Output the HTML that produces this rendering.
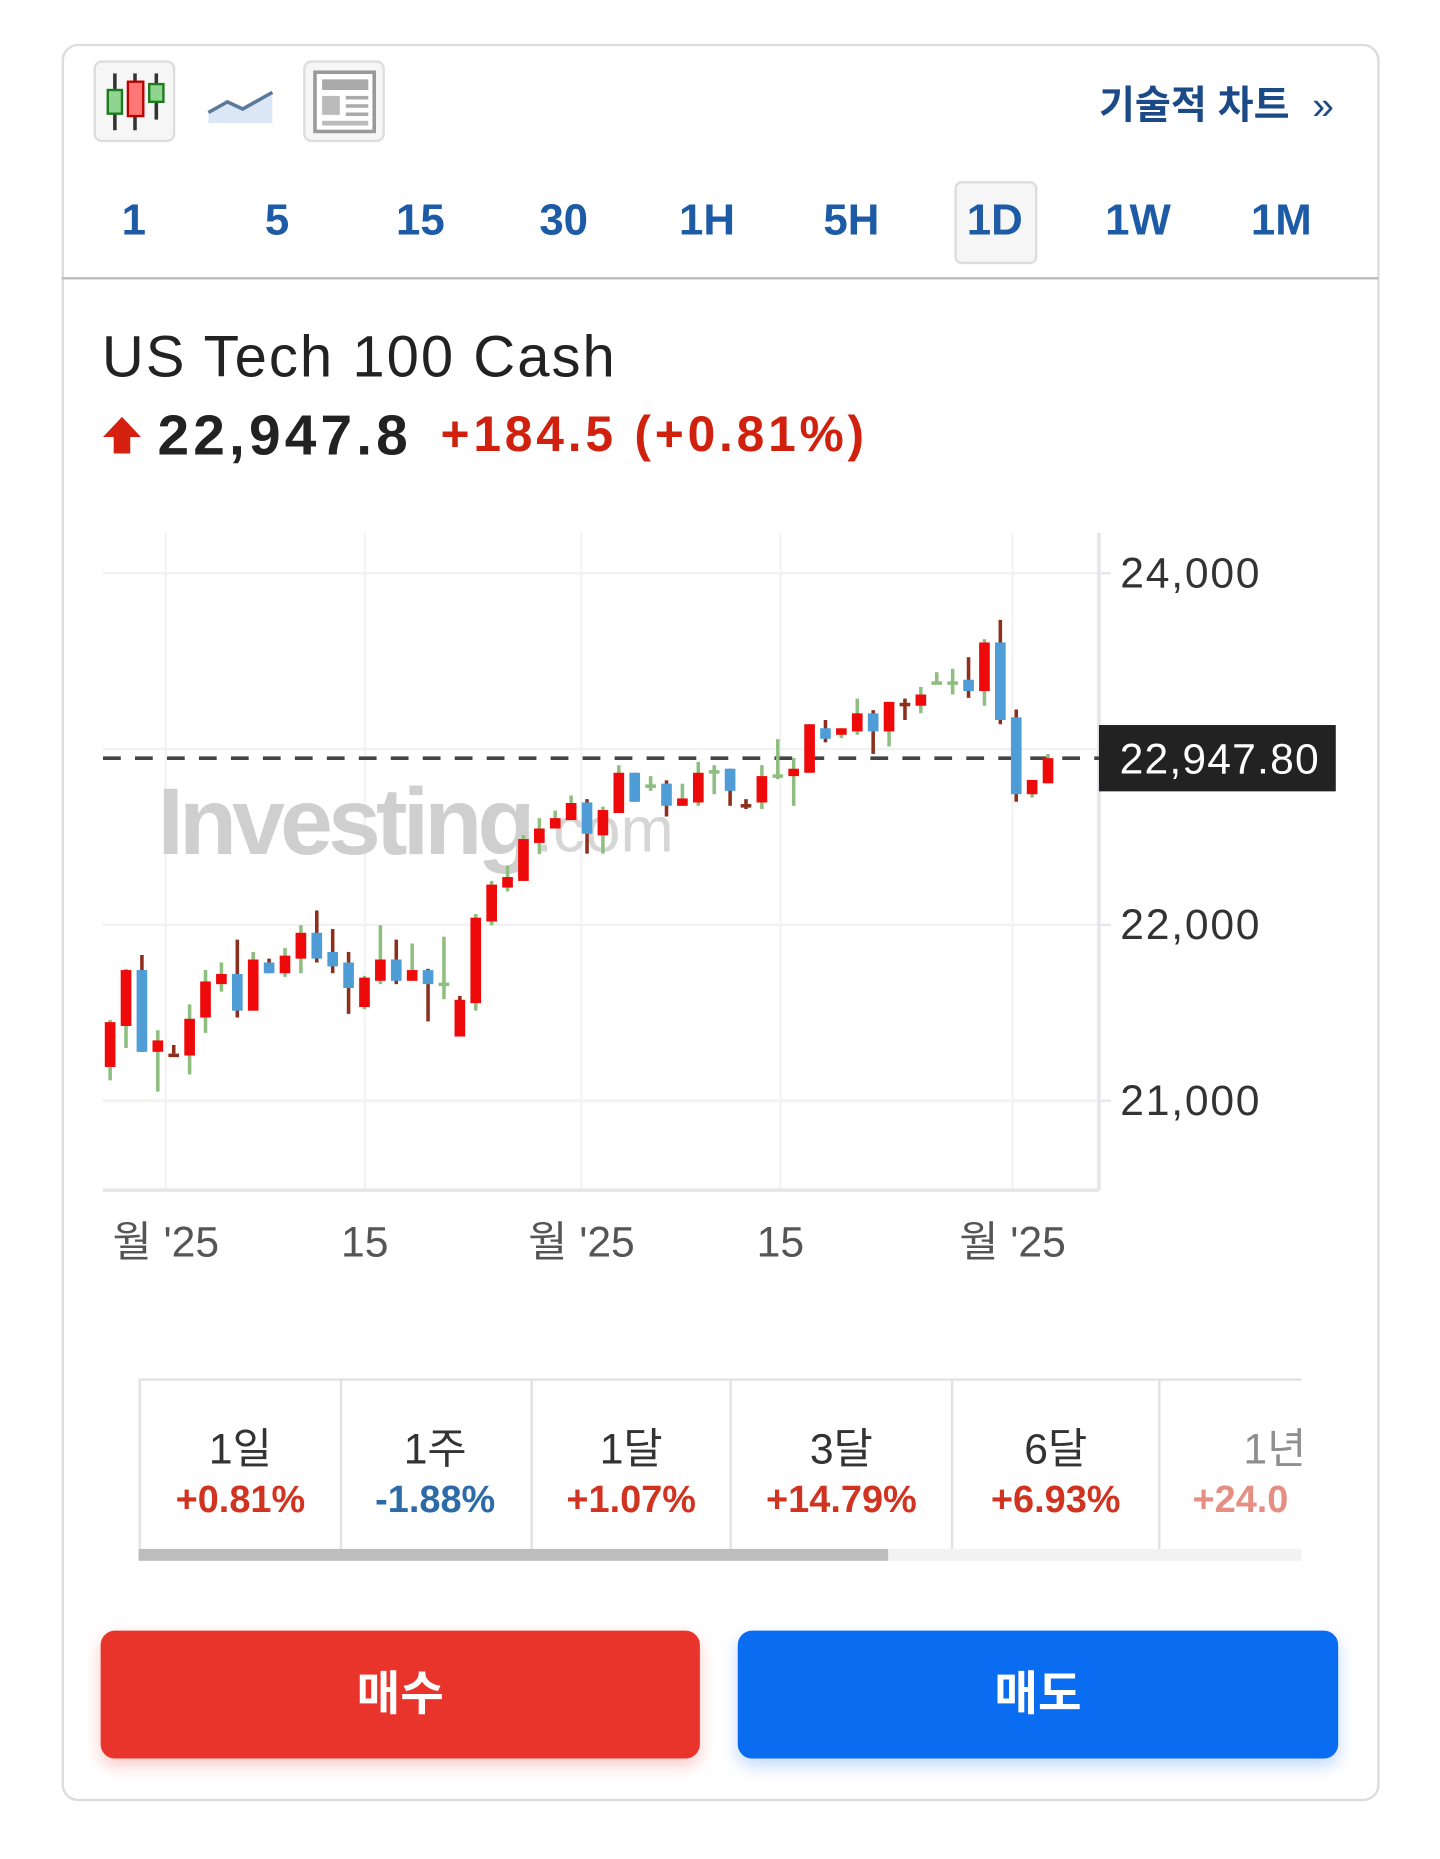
<!DOCTYPE html>
<html><head><meta charset="utf-8">
<style>
html,body{margin:0;padding:0;background:#fff;width:1440px;height:1859px;overflow:hidden}
#wrap{position:absolute;left:0;top:0;width:1216px;height:1570px;transform:scale(1.184211);transform-origin:0 0;font-family:"Liberation Sans","Noto Sans CJK KR",sans-serif}
.abs{position:absolute}
.tf{position:absolute;top:160px;font-size:37px;font-weight:bold;color:#1d5ba6;transform:translateX(-50%);line-height:52px}
.cell{position:absolute;top:1165px;height:143px;border-right:2px solid #e2e2e2;text-align:center}
.cell .l{position:absolute;top:30px;width:100%;font-size:36px;color:#333}
.cell .v{position:absolute;top:83px;width:100%;font-size:32px;font-weight:bold}
.btn{position:absolute;top:1377px;height:108px;border-radius:12px;color:#fff;font-size:40px;font-weight:bold;text-align:center;line-height:108px}
</style></head><body>
<div id="wrap">
<div class="abs" style="left:52px;top:37px;width:1109px;height:1480px;border:2px solid #dcdcdc;border-radius:14px"></div>

<svg class="abs" style="left:0;top:0" width="400" height="140">
<g>
<rect x="80" y="52" width="67" height="67" rx="6" fill="#f6f6f6" stroke="#ddd" stroke-width="2"/>
<line x1="97" y1="62" x2="97" y2="110" stroke="#333" stroke-width="3"/><rect x="91" y="76" width="12" height="20" fill="#8fd48f" stroke="#1d7a1d" stroke-width="2"/>
<line x1="114" y1="62" x2="114" y2="110" stroke="#333" stroke-width="3"/><rect x="108" y="69" width="13" height="29" fill="#f77" stroke="#b00" stroke-width="2"/>
<line x1="132" y1="62" x2="132" y2="101" stroke="#333" stroke-width="3"/><rect x="126" y="71" width="12" height="15" fill="#8fd48f" stroke="#1d7a1d" stroke-width="2"/>
</g>
<g>
<path d="M176 95 L192 86 L205 92 L230 78 L230 104 L176 104Z" fill="#dbe6f6"/>
<path d="M176 95 L192 86 L205 92 L230 78" fill="none" stroke="#5a7a9a" stroke-width="3"/>
</g>
<g>
<rect x="257" y="52" width="67" height="67" rx="6" fill="#f6f6f6" stroke="#ddd" stroke-width="2"/>
<rect x="266" y="61" width="50" height="50" fill="#fff" stroke="#999" stroke-width="3"/>
<rect x="272" y="67" width="39" height="9" fill="#aaa"/><rect x="272" y="81" width="15" height="16" fill="#bbb"/>
<rect x="292" y="81" width="19" height="3" fill="#aaa"/><rect x="292" y="88" width="19" height="3" fill="#aaa"/><rect x="292" y="95" width="19" height="3" fill="#aaa"/>
<rect x="272" y="102" width="39" height="4" fill="#bbb"/>
</g>
</svg>
<div class="abs" style="left:928px;top:62px;font-size:33px;font-weight:bold;color:#1c4a86">기술적 차트 <span style="font-weight:normal;margin-left:10px">»</span></div>

<div class="abs" style="left:806px;top:153px;width:66px;height:66px;border:2px solid #ddd;border-radius:6px;background:#f6f6f6"></div>
<div class="tf" style="left:113px">1</div>
<div class="tf" style="left:234px">5</div>
<div class="tf" style="left:355px">15</div>
<div class="tf" style="left:476px">30</div>
<div class="tf" style="left:597px">1H</div>
<div class="tf" style="left:719px">5H</div>
<div class="tf" style="left:840px">1D</div>
<div class="tf" style="left:961px">1W</div>
<div class="tf" style="left:1082px">1M</div>
<div class="abs" style="left:52px;top:234px;width:1112px;height:2px;background:#bdbdbd"></div>

<div class="abs" style="left:86px;top:274px;font-size:49px;color:#222;letter-spacing:1.7px">US Tech 100 Cash</div>
<svg class="abs" style="left:86px;top:350px" width="34" height="34"><path d="M17 2 L33 19 L24 19 L24 33 L10 33 L10 19 L1 19Z" fill="#d6200f"/></svg>
<div class="abs" style="left:133px;top:341px;font-size:48px;font-weight:bold;color:#222;letter-spacing:3.5px">22,947.8</div>
<div class="abs" style="left:372px;top:343px;font-size:42px;font-weight:bold;color:#d0210f;letter-spacing:3.2px">+184.5 (+0.81%)</div>

<svg id="chart" class="abs" style="left:0;top:0" width="1216" height="1100"></svg>

<div class="abs" style="left:117px;top:1164px;width:982px;height:154px;overflow:hidden;border-top:2px solid #e2e2e2">
</div>
<div class="cell" style="left:117px;width:168px;border-left:2px solid #e2e2e2"><div class="l">1일</div><div class="v" style="color:#d0331f">+0.81%</div></div>
<div class="cell" style="left:287px;width:161px"><div class="l">1주</div><div class="v" style="color:#2c6aa8">-1.88%</div></div>
<div class="cell" style="left:450px;width:166px"><div class="l">1달</div><div class="v" style="color:#d0331f">+1.07%</div></div>
<div class="cell" style="left:618px;width:185px"><div class="l">3달</div><div class="v" style="color:#d0331f">+14.79%</div></div>
<div class="cell" style="left:805px;width:173px"><div class="l">6달</div><div class="v" style="color:#d0331f">+6.93%</div></div>
<div class="cell" style="left:980px;width:119px;border-right:none;overflow:hidden;opacity:.55;text-align:left"><div class="l" style="left:70px;width:100px;text-align:left">1년</div><div class="v" style="left:27px;width:120px;text-align:left;color:#d0331f">+24.0</div></div>
<div class="abs" style="left:117px;top:1308px;width:982px;height:10px;background:#f2f2f2"></div>
<div class="abs" style="left:117px;top:1308px;width:633px;height:10px;background:#bdbdbd"></div>

<div class="btn" style="left:85px;width:506px;background:#e8342a;box-shadow:0 6px 14px rgba(232,52,42,.25)">매수</div>
<div class="btn" style="left:623px;width:507px;background:#0a6cf0;box-shadow:0 6px 14px rgba(10,108,240,.25)">매도</div>
</div>

<script>
const opens  = [21192,21425,21743,21278,21268,21257,21473,21663,21721,21512,21786,21725,21808,21955,21846,21786,21533,21682,21803,21682,21743,21672,21365,21555,22019,22212,22250,22466,22548,22596,22696,22509,22636,22865,22799,22803,22677,22696,22880,22888,22687,22696,22856,22846,22865,23118,23081,23100,23203,23100,23263,23246,23385,23385,23394,23330,23606,23180,22743,22805];
const closes = [21447,21743,21278,21343,21268,21466,21678,21721,21512,21803,21725,21825,21955,21808,21764,21641,21700,21803,21682,21743,21663,21672,21574,22041,22229,22272,22488,22548,22607,22693,22518,22653,22865,22700,22799,22677,22719,22865,22880,22762,22687,22846,22856,22888,23141,23058,23118,23203,23100,23268,23263,23310,23385,23385,23330,23606,23165,22743,22824,22948];
const highs  = [21460,21750,21829,21401,21317,21548,21743,21786,21916,21846,21808,21868,21998,22082,21976,21846,21710,21998,21916,21894,21750,21933,21596,22062,22250,22337,22510,22607,22650,22736,22715,22672,22908,22865,22846,22822,22803,22927,22908,22888,22715,22908,23056,22949,23141,23165,23118,23287,23221,23268,23287,23353,23437,23456,23522,23625,23734,23225,22824,22972];
const lows   = [21116,21300,21278,21052,21268,21149,21386,21620,21473,21512,21725,21704,21725,21786,21725,21494,21520,21663,21663,21682,21451,21577,21365,21512,21998,22190,22250,22402,22548,22596,22405,22405,22636,22700,22762,22616,22677,22677,22743,22677,22659,22659,22828,22677,22865,23038,23062,23081,22972,23015,23165,23203,23375,23310,23291,23246,23141,22700,22724,22805];
const yTicks = [21000,22000,23000,24000];
const yTickLabels = ["21,000","22,000","","24,000"];
const xTickIdx = [4,16,29,41,56];
const xTickLabels = ["월 '25","15","월 '25","15","월 '25"];
const lastPrice = 22947.8;

const svg = document.getElementById('chart');
const NS = 'http://www.w3.org/2000/svg';
const L = 87, R = 928, T = 450, B = 1005;
const y = v => 484 + (24000 - v) * 0.1485;
const x = i => 93 + i * (885 - 93) / (opens.length - 1);
function mk(tag, attrs){ const e = document.createElementNS(NS, tag); for (const k in attrs) e.setAttribute(k, attrs[k]); svg.appendChild(e); return e; }

yTicks.forEach((t,k) => {
  const g = mk('line',{x1:L,x2:R,y1:y(t),y2:y(t),stroke:'#f1f1f1','stroke-width':2});
  
  
  mk('line',{x1:R,x2:R+10,y1:y(t),y2:y(t),stroke:'#e4e6ea','stroke-width':2});
  if (yTickLabels[k]) {
    const tx = mk('text',{x:946,y:y(t)+12,'font-size':36,fill:'#333','font-family':'Liberation Sans, sans-serif','letter-spacing':'1.5'});
    tx.textContent = yTickLabels[k];
    
    
  }
});
xTickIdx.forEach((idx,k) => {
  const xx = [140,308,491,659,855][k];
  const g = mk('line',{x1:xx,x2:xx,y1:T,y2:B,stroke:'#f3f3f3','stroke-width':2});
  
  
  const tx = mk('text',{x:xx,y:1061,'font-size':36,fill:'#555','text-anchor':'middle','font-family':'Liberation Sans, Noto Sans CJK KR, sans-serif'});
  tx.textContent = xTickLabels[k];
  
  
});
const ax1 = mk('line',{x1:R,x2:R,y1:T,y2:B,stroke:'#e4e6ea','stroke-width':3});


const ax2 = mk('line',{x1:L,x2:R,y1:B,y2:B,stroke:'#e4e6ea','stroke-width':3});



const wm = mk('text',{x:133,y:721,'font-size':80,'font-weight':'bold',fill:'#cfcfcf','font-family':'Liberation Sans, sans-serif','letter-spacing':'-4'});
wm.textContent = 'Investing';


const wm2 = mk('text',{x:452,y:719,'font-size':54,fill:'#d6d6d6','font-family':'Liberation Sans, sans-serif'});
wm2.textContent = '.com';



const dl = mk('line',{x1:L,x2:R,y1:y(lastPrice),y2:y(lastPrice),stroke:'#444','stroke-width':3,'stroke-dasharray':'15 12'});



const bw = 9;
opens.forEach((o,i) => {
  const c = closes[i], h = highs[i], l = lows[i];
  const prev = i > 0 ? closes[i-1] : o;
  const wick = mk('line',{x1:x(i),x2:x(i),y1:y(h),y2:y(l),stroke: c >= prev ? '#8fbf80' : '#8e2e1c','stroke-width':3});
  
  
  const top = y(Math.max(o,c)), bot = y(Math.min(o,c));
  const body = mk('rect',{x:x(i)-bw/2,y:top,width:bw,height:Math.max(3,bot-top),
    fill: c > o ? '#ee0a0a' : (c < o ? '#4e9dd6' : (c >= prev ? '#8fbf80' : '#8e2e1c'))});
  
  
});

const tag = mk('rect',{x:928,y:y(lastPrice)-28,width:200,height:56,fill:'#222'});


const tt = mk('text',{x:1030,y:y(lastPrice)+13,'font-size':36,fill:'#fff','text-anchor':'middle','font-family':'Liberation Sans, sans-serif','letter-spacing':'1'});
tt.textContent = lastPrice.toLocaleString('en-US',{minimumFractionDigits:2});


</script>
</body></html>
